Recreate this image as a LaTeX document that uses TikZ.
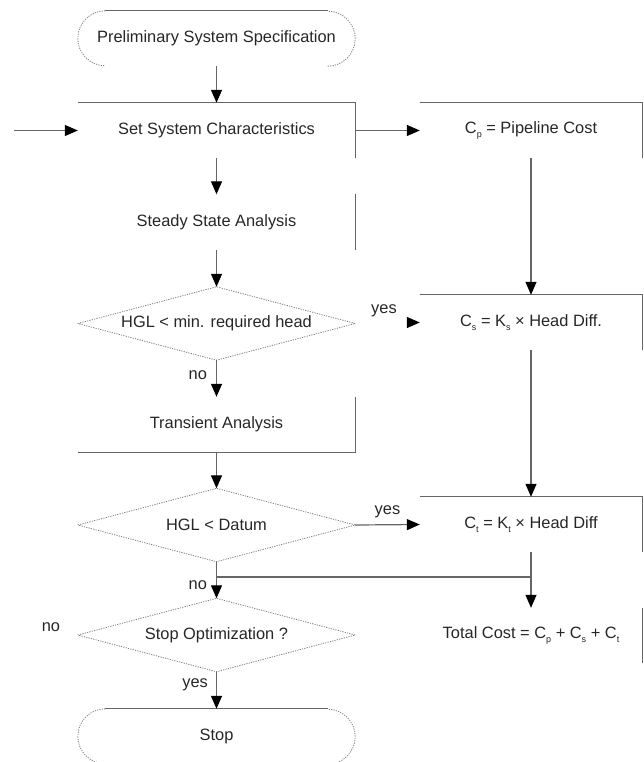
\documentclass[tikz,border=0pt]{standalone}
\usepackage{fontspec}
\setmainfont{Liberation Sans}
\usetikzlibrary{arrows.meta}
\newcommand{\lowsub}[1]{\raisebox{-4pt}{\fontsize{9}{9}\selectfont #1}}

\begin{document}
\begin{tikzpicture}[x=1pt,y=1pt,
	font=\fontsize{16.4}{19}\selectfont,
	every node/.append style={text=black!85},
	blk/.style={minimum width=277pt,minimum height=55pt,inner sep=0pt},
	cst/.style={minimum width=222pt,minimum height=55pt,inner sep=0pt},
	dec/.style={minimum width=277pt,minimum height=73pt,inner sep=0pt},
	rim/.style={draw=black!60,line width=1.2pt},
	dots/.style={draw=black!50,line width=0.8pt,dash pattern=on 1.2pt off 1.2pt},
	flow/.style={rim,-{Triangle[length=13pt,width=11pt,black]}},
	lbl/.style={inner sep=0pt}]
	\useasboundingbox (0,0) rectangle (644,-762);
	\clip (0,0) rectangle (644,-762);
	\node[blk] (spec) at (216.5,-38.5) {Preliminary System Specification};
	\node[blk] (set) at (216.5,-130.5) {Set System Characteristics};
	\node[blk] (steady) at (216.5,-222) {Steady State Analysis};
	\node[dec] (hmin) at (216.5,-323.5) {HGL < min. required head};
	\node[blk] (trans) at (216.5,-424.5) {Transient Analysis};
	\node[dec] (hdat) at (216.5,-525) {HGL < Datum};
	\node[dec] (opt) at (216.5,-635) {Stop Optimization ?};
	\node[blk] (stop) at (216.5,-736.5) {Stop};
	\node[cst] (cp) at (531,-130.5) {C\lowsub{p} = Pipeline Cost};
	\node[cst] (cs) at (531,-322.5) {C\lowsub{s} = K\lowsub{s} × Head Diff.};
	\node[cst] (ct) at (531,-524.5) {C\lowsub{t} = K\lowsub{t} × Head Diff};
	\node[cst] (total) at (531,-635.5) {Total Cost = C\lowsub{p} + C\lowsub{s} + C\lowsub{t}};
	\node[lbl] (ylab) at (384,-311) {yes};
	\node[lbl] (nlab) at (51,-627) {no};

	\draw[rim] ([xshift=27.5pt]spec.north west) -- ([xshift=-27.5pt]spec.north east);
	\draw[dots] ([xshift=27.5pt]spec.north west) arc (90:270:27.5pt);
	\draw[dots] ([xshift=-27.5pt]spec.south east) arc (-90:90:27.5pt);
	\draw[rim] ([xshift=27.5pt]stop.north west) -- ([xshift=-27.5pt]stop.north east);
	\draw[dots] ([xshift=27.5pt]stop.north west) arc (90:270:27.5pt);
	\draw[dots] ([xshift=-27.5pt]stop.south east) arc (-90:90:27.5pt);
	\draw[dots] (hmin.west) -- (hmin.north) -- (hmin.east) -- (hmin.south) -- cycle;
	\draw[dots] (hdat.west) -- (hdat.north) -- (hdat.east) -- (hdat.south) -- cycle;
	\draw[dots] (opt.west) -- (opt.north) -- (opt.east) -- (opt.south) -- cycle;
	\draw[rim] (set.north west) -- (set.north east) -- (set.south east);
	\draw[rim] (steady.north east) -- (steady.south east);
	\draw[rim] (trans.north east) -- (trans.south east) -- (trans.south west);
	\draw[rim] (cp.north west) -- (cp.north east) -- (cp.south east);
	\draw[rim] (cs.north west) -- (cs.north east) -- (cs.south east);
	\draw[rim] (ct.north west) -- (ct.north east) -- (ct.south east);
	\draw[rim] (total.north east) -- (total.south east);

	\coordinate (in) at (14,-130.5);
	\coordinate (ys) at (408,-322.5);
	\coordinate (join) at (531,-577);
	\draw[flow] (spec.south) -- (set.north);
	\draw[flow] (in) -- (set.west);
	\draw[flow] (set.east) -- (cp.west);
	\draw[flow] (set.south) -- (steady.north);
	\draw[flow] (steady.south) -- (hmin.north);
	\draw[flow] (hmin.south) -- node[lbl,left=9pt,pos=0.4] {no} (trans.north);
	\draw[flow] (trans.south) -- (hdat.north);
	\draw[flow] (hdat.east) -- node[lbl,above=6pt] {yes} (ct.west);
	\draw[flow] (hdat.south) -- node[lbl,left=9pt,pos=0.65] {no} (opt.north);
	\draw[rim] (join -| hdat.south) -- (join);
	\draw[flow] (opt.south) -- node[lbl,left=8pt,pos=0.35] {yes} (stop.north);
	\draw[flow] (ys) -- (cs.west);
	\draw[flow] (cp.south) -- (cs.north);
	\draw[flow] (cs.south) -- (ct.north);
	\draw[flow] (ct.south) -- (total.north);
\end{tikzpicture}
\end{document}
